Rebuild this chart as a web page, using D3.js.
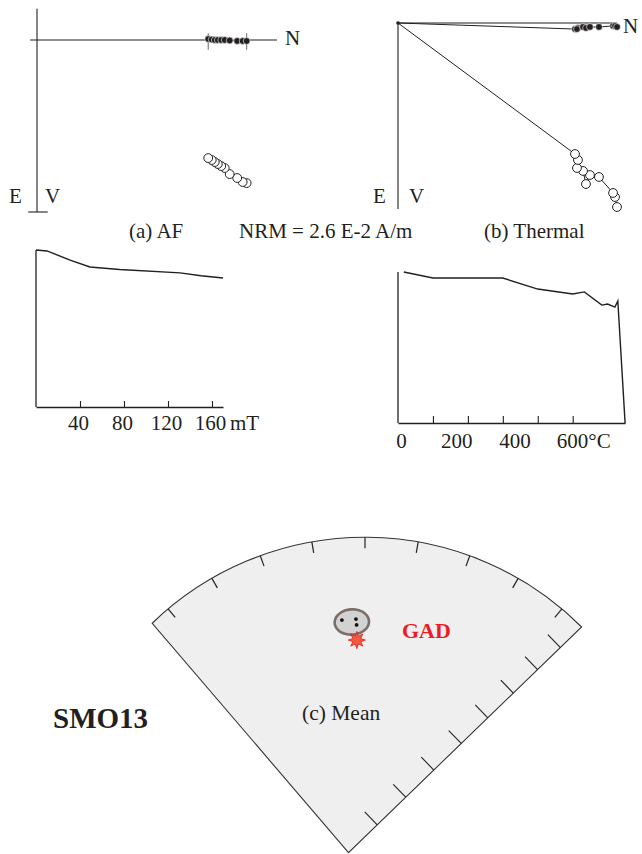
<!DOCTYPE html>
<html>
<head>
<meta charset="utf-8">
<script src="https://cdn.jsdelivr.net/npm/d3@7"></script>
<style>
  html, body { margin: 0; padding: 0; background: #fff; }
  svg { display: block; }
  text { font-family: "Liberation Serif", "Times New Roman", serif; fill: #231f20; }
</style>
</head>
<body>
<svg id="fig" width="642" height="854"></svg>
<script>
// ---------- (a) AF demagnetisation: orthogonal projection components (mA/m), NRM first
const afNorth = [21.49, 21.08, 20.52, 19.75, 19.24, 18.88, 18.53, 18.22, 17.91, 17.55];
const afEast  = [0.10, 0.10, 0.10, 0.05, 0.00, 0.00, 0.00, 0.00, -0.05, -0.10];
const afDown  = [14.64, 14.53, 14.12, 13.72, 13.10, 12.90, 12.69, 12.49, 12.28, 12.08];

// ---------- (b) thermal demagnetisation components (mA/m), NRM first
const thNorth = [19.91, 19.73, 19.55, 18.27, 17.45, 17.09, 16.82, 16.27, 16.36, 16.09, 0];
const thEast  = [0.36, 0.27, 0.27, 0.36, 0.36, 0.45, 0.36, 0.55, 0.45, 0.55, 0];
const thDown  = [16.73, 15.82, 15.45, 14.00, 13.82, 14.64, 13.45, 13.18, 12.45, 11.91, 0];

// ---------- normalised intensity decay curves
const afField     = [0, 10, 31, 49, 76, 131, 150, 170];
const afIntensity = [1.0, 0.994, 0.936, 0.892, 0.876, 0.854, 0.836, 0.822];
const thTemp      = [20, 120, 360, 480, 600, 640, 700, 720, 745, 755, 780];
const thIntensity = [1.0, 0.960, 0.960, 0.887, 0.854, 0.868, 0.781, 0.788, 0.768, 0.808, 0];

// ---------- axis ticks
const afTicks = [40, 80, 120, 160];
const thTicks = [120, 240, 360, 480, 600];
const thLabels = [0, 200, 400, 600];
const decTicks = [-40, -30, -20, -10, 0, 10, 20, 30, 40];
const incTicks = [10, 20, 30, 40, 50, 60, 70, 80];

// ---------- (c) site mean directions (declination, inclination in degrees)
const siteDec = [354.1, 357.7, 357.8];
const siteInc = [27.5, 27.5, 29.3];
const meanDir = [356.6, 28.3];   // dec, inc
const meanA95 = [3.9];           // alpha95, degrees
const gadDir  = [357.7, 33.9];   // dec, inc

// ================= drawing =================
const svg = d3.select("#fig");
const ink = "#231f20";
const fontSize = 21;

function label(x, y, str, opts = {}) {
  return svg.append("text")
    .attr("x", x).attr("y", y)
    .attr("font-size", opts.size || fontSize)
    .attr("font-weight", opts.weight || null)
    .attr("text-anchor", opts.anchor || "start")
    .style("fill", opts.fill || ink)
    .text(str);
}

function hline(g, x1, x2, y, w = 1.1, c = ink) {
  g.append("line").attr("x1", x1).attr("x2", x2).attr("y1", y).attr("y2", y)
    .attr("stroke", c).attr("stroke-width", w);
}
function vline(g, x, y1, y2, w = 1.1, c = ink) {
  g.append("line").attr("x1", x).attr("x2", x).attr("y1", y1).attr("y2", y2)
    .attr("stroke", c).attr("stroke-width", w);
}

// ---- Zijderveld diagram helper
function zijderveld(xs, ys, north, east, down, opts) {
  const g = svg.append("g");
  // axes
  hline(g, xs(opts.nMin), xs(opts.nMax), ys(0));
  vline(g, xs(0), ys(opts.vMin), ys(opts.vMax));
  if (opts.endBar) hline(g, xs(-0.9), xs(1.1), ys(opts.vMax));
  if (opts.rangeMarks) {
    [north[0], north[north.length - 1]].forEach(n =>
      vline(g, xs(n), ys(-0.7), ys(1.0), 0.8, "#444"));
  }
  const idx = d3.range(north.length);
  const vLine = d3.line().x(i => xs(north[i])).y(i => ys(down[i]));
  const hLine = d3.line().x(i => xs(north[i])).y(i => ys(east[i]));
  g.append("path").attr("d", vLine(idx)).attr("fill", "none").attr("stroke", ink).attr("stroke-width", 1);
  g.append("path").attr("d", hLine(idx)).attr("fill", "none").attr("stroke", ink).attr("stroke-width", 1);
  const pts = idx.filter(i => north[i] !== 0 || down[i] !== 0);
  g.selectAll("circle.v").data(pts).join("circle")
    .attr("class", "v")
    .attr("cx", i => xs(north[i])).attr("cy", i => ys(down[i]))
    .attr("r", 4.4).attr("fill", "#fff").attr("stroke", ink).attr("stroke-width", 1);
  g.selectAll("circle.h").data(pts.slice().reverse()).join("circle")
    .attr("class", "h")
    .attr("cx", i => xs(north[i])).attr("cy", i => ys(east[i]))
    .attr("r", 3.4).attr("fill", ink).attr("stroke", "#fff").attr("stroke-width", 0.6);
  if (opts.originDot) {
    g.append("circle").attr("cx", xs(0)).attr("cy", ys(0)).attr("r", 1.8).attr("fill", ink);
  }
  return g;
}

// (a) AF
const xa = d3.scaleLinear().domain([0, 24.6]).range([37, 277]);
const ya = d3.scaleLinear().domain([0, 17.6]).range([40, 212]);
zijderveld(xa, ya, afNorth, afEast, afDown,
  { nMin: -0.7, nMax: 24.6, vMin: -3.2, vMax: 17.6, endBar: true, rangeMarks: true });
label(285, 45, "N");
label(9, 203, "E");
label(45, 203, "V");

// (b) Thermal
const xb = d3.scaleLinear().domain([0, 20]).range([398, 618]);
const yb = d3.scaleLinear().domain([0, 17]).range([23, 210]);
zijderveld(xb, yb, thNorth, thEast, thDown,
  { nMin: 0, nMax: 19.9, vMin: 0, vMax: 16.9, originDot: true });
label(623, 33, "N");
label(373, 203, "E");
label(409, 203, "V");

// captions
label(129, 238, "(a) AF");
label(239, 238, "NRM = 2.6 E-2 A/m");
label(484, 238, "(b) Thermal");

// ---- AF intensity decay
const xAF = d3.scaleLinear().domain([0, 170]).range([36, 223]);
const yAF = d3.scaleLinear().domain([0, 1]).range([407, 250]);
const gAF = svg.append("g");
vline(gAF, xAF(0), yAF(0), yAF(1), 1.3);
const afAxis = gAF.append("g").attr("transform", `translate(0,${yAF(0)})`)
  .call(d3.axisBottom(xAF).tickValues(afTicks).tickSizeInner(-6).tickSizeOuter(0).tickPadding(8));
afAxis.attr("font-family", null).attr("font-size", null);
afAxis.select(".domain").attr("stroke", ink).attr("stroke-width", 1.3);
afAxis.selectAll(".tick line").attr("stroke", ink).attr("stroke-width", 1.1);
afAxis.selectAll(".tick text").attr("font-size", fontSize).attr("dx", -2).style("fill", ink);
label(xAF(170) + 7, 430, "mT");
gAF.append("path")
  .attr("d", d3.line().x((d, i) => xAF(afField[i])).y((d, i) => yAF(afIntensity[i]))(afField))
  .attr("fill", "none").attr("stroke", ink).attr("stroke-width", 1.4);

// ---- Thermal intensity decay
const xTh = d3.scaleLinear().domain([0, 780]).range([398, 625.1]);
const yTh = d3.scaleLinear().domain([0, 1]).range([423, 272]);
const gTh = svg.append("g");
vline(gTh, xTh(0), yTh(0), yTh(1), 1.3);
const thAxis = gTh.append("g").attr("transform", `translate(0,${yTh(0)})`)
  .call(d3.axisBottom(xTh).tickValues(thTicks).tickFormat("").tickSizeInner(-7).tickSizeOuter(0));
thAxis.select(".domain").attr("stroke", ink).attr("stroke-width", 1.3);
thAxis.selectAll(".tick line").attr("stroke", ink).attr("stroke-width", 1.1);
const thLab = gTh.append("g").attr("transform", `translate(0,${yTh(0)})`)
  .call(d3.axisBottom(xTh).tickValues(thLabels).tickSize(0).tickPadding(10)
    .tickFormat(d => d === 600 ? "600°C" : String(d)));
thLab.attr("font-family", null).attr("font-size", null);
thLab.select(".domain").remove();
thLab.selectAll(".tick text").attr("font-size", fontSize).style("fill", ink)
  .attr("text-anchor", d => d === 600 ? "start" : "middle")
  .attr("dx", d => d === 600 ? "-0.78em" : (d === 0 ? 3 : 0));
gTh.append("path")
  .attr("d", d3.line().x((d, i) => xTh(thTemp[i])).y((d, i) => yTh(thIntensity[i]))(thTemp))
  .attr("fill", "none").attr("stroke", ink).attr("stroke-width", 1.4);

// ---- (c) equal-area sector of the lower hemisphere
const rad = Math.PI / 180;
const fanC = [365, 843.6], fanR = 306.3;
const apexShift = [-16.5, 9];
const decSpan = [-44, 45];
const eqArea = inc => Math.SQRT2 * Math.sin((90 - inc) / 2 * rad);
function proj(dec, inc) {
  const r = fanR * eqArea(inc);
  return [fanC[0] + r * Math.sin(dec * rad), fanC[1] - r * Math.cos(dec * rad)];
}
const onArc = (dec, r) => [fanC[0] + r * Math.sin(dec * rad), fanC[1] - r * Math.cos(dec * rad)];
const apex = [fanC[0] + apexShift[0], fanC[1] + apexShift[1]];
const leftEnd = onArc(decSpan[0], fanR);
const rightEnd = onArc(decSpan[1], fanR);

const gFan = svg.append("g");
const outline = d3.path();
outline.moveTo(apex[0], apex[1]);
outline.lineTo(leftEnd[0], leftEnd[1]);
outline.arc(fanC[0], fanC[1], fanR, (decSpan[0] - 90) * rad, (decSpan[1] - 90) * rad, false);
outline.closePath();
gFan.append("path").attr("d", outline.toString())
  .attr("fill", "#efefef").attr("stroke", "#333").attr("stroke-width", 1.1);

// declination ticks on the rim
gFan.selectAll("line.dec").data(decTicks).join("line")
  .attr("class", "dec")
  .attr("x1", d => onArc(d, fanR)[0]).attr("y1", d => onArc(d, fanR)[1])
  .attr("x2", d => onArc(d, fanR - 11)[0]).attr("y2", d => onArc(d, fanR - 11)[1])
  .attr("stroke", "#222").attr("stroke-width", 1.2);

// inclination ticks along the right edge (equal-area spacing)
const edgeLen = Math.hypot(apex[0] - rightEnd[0], apex[1] - rightEnd[1]);
const ed = [(apex[0] - rightEnd[0]) / edgeLen, (apex[1] - rightEnd[1]) / edgeLen];
const en = [-ed[1], ed[0]];
const edgePt = inc => {
  const s = edgeLen * (1 - eqArea(inc));
  return [rightEnd[0] + ed[0] * s, rightEnd[1] + ed[1] * s];
};
gFan.selectAll("line.inc").data(incTicks).join("line")
  .attr("class", "inc")
  .attr("x1", d => edgePt(d)[0]).attr("y1", d => edgePt(d)[1])
  .attr("x2", d => edgePt(d)[0] + en[0] * 18).attr("y2", d => edgePt(d)[1] + en[1] * 18)
  .attr("stroke", "#222").attr("stroke-width", 1.1);

// alpha95 confidence circle around the mean
function toVec(dec, inc) {
  const d = dec * rad, i = inc * rad;
  return [Math.cos(i) * Math.cos(d), Math.cos(i) * Math.sin(d), Math.sin(i)];
}
function smallCircle(dec, inc, a, n) {
  const m = toVec(dec, inc), D = dec * rad, I = inc * rad;
  const u = [-Math.sin(D), Math.cos(D), 0];
  const v = [-Math.sin(I) * Math.cos(D), -Math.sin(I) * Math.sin(D), Math.cos(I)];
  const ca = Math.cos(a * rad), sa = Math.sin(a * rad);
  return d3.range(n).map(k => {
    const t = 2 * Math.PI * k / n;
    const p = [0, 1, 2].map(j => ca * m[j] + sa * (Math.cos(t) * u[j] + Math.sin(t) * v[j]));
    const pinc = Math.asin(p[2]) / rad;
    const pdec = Math.atan2(p[1], p[0]) / rad;
    return proj(pdec, pinc);
  });
}
gFan.append("path")
  .attr("d", d3.line().curve(d3.curveCardinalClosed)(smallCircle(meanDir[0], meanDir[1], meanA95[0], 48)))
  .attr("fill", "#d2d2d2").attr("stroke", "#7b6d68").attr("stroke-width", 2.6);

gFan.selectAll("circle.site").data(d3.range(siteDec.length)).join("circle")
  .attr("class", "site")
  .attr("cx", i => proj(siteDec[i], siteInc[i])[0])
  .attr("cy", i => proj(siteDec[i], siteInc[i])[1])
  .attr("r", 1.9).attr("fill", "#111");

// GAD direction star
const gadPt = proj(gadDir[0], gadDir[1]);
const starPts = d3.range(16).map(k => [k * Math.PI / 8, k % 2 === 0 ? 8.6 : 4.2]);
gFan.append("path")
  .attr("transform", `translate(${gadPt[0]},${gadPt[1]})`)
  .attr("d", d3.lineRadial().curve(d3.curveLinearClosed)(starPts))
  .attr("fill", "#f15a3c").attr("stroke", "#e31e24").attr("stroke-width", 0.8);

label(402, 638, "GAD", { size: 22, weight: "bold", fill: "#ed1c24" });
label(302, 720, "(c) Mean", { size: 21.5 });
label(53, 728, "SMO13", { size: 29, weight: "bold" });
</script>
</body>
</html>
